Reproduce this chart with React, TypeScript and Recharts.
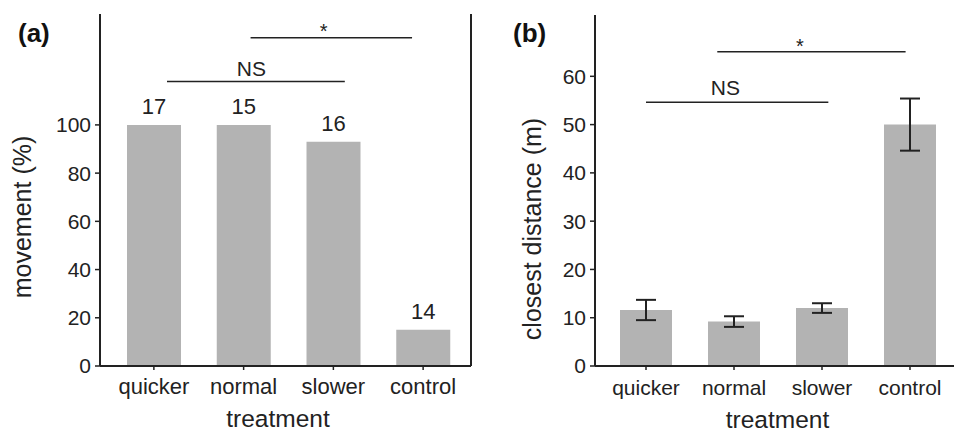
import React from 'react';
import {
  BarChart, Bar, XAxis, YAxis, ErrorBar, LabelList, ReferenceLine, ReferenceDot, Label,
} from 'recharts';

const categories = ['quicker', 'normal', 'slower', 'control'];
const movementPct = [100, 100, 93, 15];
const sampleSizes = [17, 15, 16, 14];
const closestDistance = [11.6, 9.2, 12.0, 50.0];
const closestDistanceErr = [2.1, 1.1, 1.0, 5.4];
const movementTicks = [0, 20, 40, 60, 80, 100];
const distanceTicks = [0, 10, 20, 30, 40, 50, 60];

// significance annotations, in data units (x: category index 0..3, y: value)
const sigLabels = ['NS', '*'];
const sigA_x1 = [0.145, 1.077];
const sigA_x2 = [2.128, 2.878];
const sigA_y = [118.0, 136.1];
const sigA_tx = [1.087, 1.892];
const sigB_x1 = [0.0, 0.81];
const sigB_x2 = [2.072, 2.95];
const sigB_y = [54.65, 65.1];
const sigB_tx = [0.903, 1.75];

const dataA = categories.map((c, i) => ({ cat: c, v: movementPct[i], n: sampleSizes[i] }));
const dataB = categories.map((c, i) => ({ cat: c, v: closestDistance[i], err: closestDistanceErr[i] }));

const FONT = '"Liberation Sans", Arial, Helvetica, sans-serif';
const AX = '#222';
const BAR = '#b3b3b3';
const labelOffsets: Record<string, number> = { NS: 6, '*': 0 };
const labelOffsetsB: Record<string, number> = { NS: 7, '*': -1 };
const labelSizes: Record<string, number> = { NS: 21, '*': 20 };

const yLabel = (text: string, dxBase: number, shift: number) => (props: any) => {
  const vb = props.viewBox;
  const bx = vb.x + dxBase;
  const cy = vb.y + vb.height / 2 + shift;
  return (
    <text x={bx} y={cy} transform={`rotate(-90, ${bx}, ${cy})`} textAnchor="middle"
      fontSize={25} fill={AX} fontFamily={FONT}>{text}</text>
  );
};

const xLabel = (text: string, shift: number, baseline: number) => (props: any) => {
  const vb = props.viewBox;
  return (
    <text x={vb.x + vb.width / 2 + shift} y={baseline} textAnchor="middle"
      fontSize={24.5} fill={AX} fontFamily={FONT}>{text}</text>
  );
};

function PanelA() {
  return (
    <BarChart width={480} height={432} data={dataA}
      margin={{ top: 14, right: 8, bottom: 0, left: 0 }} style={{ fontFamily: FONT }}>
      <XAxis dataKey="cat" height={66} padding={{ left: 9, right: 3 }} interval={0}
        tick={{ fontSize: 22, fill: AX }} tickSize={4} tickMargin={8}
        axisLine={{ stroke: AX, strokeWidth: 2 }} tickLine={{ stroke: AX, strokeWidth: 1.5 }}>
        <Label content={xLabel('treatment', -7.5, 427)} />
      </XAxis>
      <XAxis xAxisId="n" type="number" domain={[0, 3]} allowDataOverflow
        padding={{ left: 54, right: 48 }} hide />
      <XAxis xAxisId="top" orientation="top" dataKey="cat" height={0} tick={false} tickLine={false}
        axisLine={{ stroke: AX, strokeWidth: 2 }} />
      <YAxis width={100} domain={[0, 146]} ticks={movementTicks} allowDataOverflow
        tick={{ fontSize: 21, fill: AX }} tickSize={5} tickMargin={4}
        axisLine={{ stroke: AX, strokeWidth: 2 }} tickLine={{ stroke: AX, strokeWidth: 1.5 }}>
        <Label content={yLabel('movement (%)', 31, 27)} />
      </YAxis>
      <YAxis yAxisId="r" orientation="right" width={1} domain={[0, 146]} tick={false} tickLine={false}
        axisLine={{ stroke: AX, strokeWidth: 2 }} />
      <Bar dataKey="v" fill={BAR} barSize={54} isAnimationActive={false}>
        <LabelList dataKey="n" position="top" offset={11} fontSize={22} fill={AX} />
      </Bar>
      {sigLabels.map((t, i) => (
        <ReferenceLine key={'la' + i} xAxisId="n" ifOverflow="visible"
          segment={[{ x: sigA_x1[i], y: sigA_y[i] }, { x: sigA_x2[i], y: sigA_y[i] }]}
          stroke={AX} strokeWidth={1.5} />
      ))}
      {sigLabels.map((t, i) => (
        <ReferenceDot key={'ta' + i} xAxisId="n" x={sigA_tx[i]} y={sigA_y[i]} r={0} stroke="none" fill="none"
          label={{ value: t, position: 'top', offset: labelOffsets[t], fontSize: labelSizes[t], fill: AX }} />
      ))}
    </BarChart>
  );
}

function PanelB() {
  return (
    <BarChart width={474} height={432} data={dataB}
      margin={{ top: 15, right: 0, bottom: 0, left: 0 }} style={{ fontFamily: FONT }}>
      <XAxis dataKey="cat" height={66} padding={{ left: 7, right: 0 }} interval={0}
        tick={{ fontSize: 21, fill: AX }} tickSize={4} tickMargin={10}
        axisLine={{ stroke: AX, strokeWidth: 2 }} tickLine={{ stroke: AX, strokeWidth: 1.5 }}>
        <Label content={xLabel('treatment', 3, 428)} />
      </XAxis>
      <XAxis xAxisId="n" type="number" domain={[0, 3]} allowDataOverflow
        padding={{ left: 51, right: 44 }} hide />
      <XAxis xAxisId="top" orientation="top" dataKey="cat" height={0} tick={false} tickLine={false}
        axisLine={{ stroke: AX, strokeWidth: 2 }} />
      <YAxis width={115} domain={[0, 72.7]} ticks={distanceTicks} allowDataOverflow
        tick={{ fontSize: 21, fill: AX }} tickSize={5} tickMargin={4}
        axisLine={{ stroke: AX, strokeWidth: 2 }} tickLine={{ stroke: AX, strokeWidth: 1.5 }}>
        <Label content={yLabel('closest distance (m)', 61, 38.5)} />
      </YAxis>
      <Bar dataKey="v" fill={BAR} barSize={52} isAnimationActive={false}>
        <ErrorBar dataKey="err" width={10} stroke={AX} strokeWidth={2} />
      </Bar>
      {sigLabels.map((t, i) => (
        <ReferenceLine key={'lb' + i} xAxisId="n" ifOverflow="visible"
          segment={[{ x: sigB_x1[i], y: sigB_y[i] }, { x: sigB_x2[i], y: sigB_y[i] }]}
          stroke={AX} strokeWidth={1.5} />
      ))}
      {sigLabels.map((t, i) => (
        <ReferenceDot key={'tb' + i} xAxisId="n" x={sigB_tx[i]} y={sigB_y[i]} r={0} stroke="none" fill="none"
          label={{ value: t, position: 'top', offset: labelOffsetsB[t], fontSize: labelSizes[t], fill: AX }} />
      ))}
    </BarChart>
  );
}

export default function App() {
  return (
    <div style={{ position: 'absolute', left: 0, top: 0, width: 954, height: 432, background: '#fff', fontFamily: FONT }}>
      <div style={{ position: 'absolute', left: 0, top: 0 }}><PanelA /></div>
      <div style={{ position: 'absolute', left: 480, top: 0 }}><PanelB /></div>
      <svg width={954} height={60} style={{ position: 'absolute', left: 0, top: 0, pointerEvents: 'none' }}>
        <text x={18} y={42} fontSize={26} fontWeight="bold" fill="#111" fontFamily={FONT}>(a)</text>
        <text x={513} y={42} fontSize={26} fontWeight="bold" fill="#111" fontFamily={FONT}>(b)</text>
      </svg>
    </div>
  );
}
